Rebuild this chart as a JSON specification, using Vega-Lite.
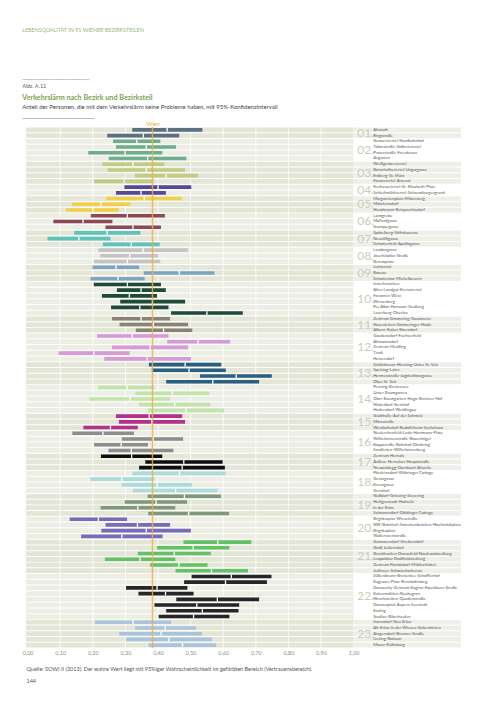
{
  "$schema": "https://vega.github.io/schema/vega-lite/v6.json",
  "background": "white",
  "padding": {"left": 22, "top": 27, "right": 0, "bottom": 0},
  "config": {
    "view": {"stroke": null},
    "concat": {"spacing": 0},
    "font": "Lato"
  },
  "title": {
    "text": "LEBENSQUALITÄT IN 91 WIENER BEZIRKSTEILEN",
    "anchor": "start",
    "fontSize": 5.4,
    "fontWeight": "normal",
    "color": "#9ab57a",
    "offset": 44
  },
  "vconcat": [
    {
      "title": {
        "text": ["────────────────", "Abb. A.11"],
        "anchor": "start",
        "fontSize": 5.6,
        "fontWeight": "normal",
        "color": "#666666",
        "lineHeight": 7,
        "offset": 4
      },
      "vconcat": [
        {
          "title": {
            "text": "Verkehrslärm nach Bezirk und Bezirksteil",
            "subtitle": ["Anteil der Personen, die mit dem Verkehrslärm keine Probleme haben, mit 95%-Konfidenzintervall", "────────────────"],
            "anchor": "start",
            "fontSize": 7.2,
            "fontWeight": "bold",
            "color": "#7f9f52",
            "subtitleFontSize": 6,
            "subtitleColor": "#444444",
            "subtitleLineHeight": 11,
            "subtitlePadding": 3,
            "offset": -1
          },
          "width": 435.2,
          "height": 521,
          "data": {
            "values": [
              {"bz": "01.", "name": "Altstadt", "lo": 0.321, "est": 0.428, "hi": 0.536},
              {"bz": "01.", "name": "Ringstraße", "lo": 0.244, "est": 0.355, "hi": 0.465},
              {"bz": "02.", "name": "Stuwerviertel-Nordbahnhof", "lo": 0.262, "est": 0.335, "hi": 0.407},
              {"bz": "02.", "name": "Taborstraße-Volkertviertel", "lo": 0.271, "est": 0.364, "hi": 0.455},
              {"bz": "02.", "name": "Praterstraße-Freudenau", "lo": 0.186, "est": 0.299, "hi": 0.413},
              {"bz": "02.", "name": "Augarten", "lo": 0.249, "est": 0.368, "hi": 0.487},
              {"bz": "03.", "name": "Weißgerberviertel", "lo": 0.229, "est": 0.323, "hi": 0.419},
              {"bz": "03.", "name": "Botschaftsviertel-Ungargasse", "lo": 0.245, "est": 0.364, "hi": 0.483},
              {"bz": "03.", "name": "Erdberg-St. Marx", "lo": 0.329, "est": 0.425, "hi": 0.523},
              {"bz": "03.", "name": "Fasanviertel-Arsenal", "lo": 0.204, "est": 0.296, "hi": 0.386},
              {"bz": "04.", "name": "Freihausviertel-St.-Elisabeth-Platz", "lo": 0.297, "est": 0.400, "hi": 0.502},
              {"bz": "04.", "name": "Schleifmühlviertel-Schaumburgergrund", "lo": 0.271, "est": 0.348, "hi": 0.424},
              {"bz": "05.", "name": "Margaretenplatz-Mittersteig", "lo": 0.241, "est": 0.358, "hi": 0.473},
              {"bz": "05.", "name": "Matzleinsdorf", "lo": 0.136, "est": 0.225, "hi": 0.315},
              {"bz": "05.", "name": "Hundsturm-Reinprechtsdorf", "lo": 0.118, "est": 0.200, "hi": 0.279},
              {"bz": "06.", "name": "Laimgrube", "lo": 0.194, "est": 0.306, "hi": 0.421},
              {"bz": "06.", "name": "Mollardgasse", "lo": 0.079, "est": 0.170, "hi": 0.260},
              {"bz": "06.", "name": "Stumpergasse", "lo": 0.239, "est": 0.323, "hi": 0.409},
              {"bz": "07.", "name": "Spittelberg-Stiftskaserne", "lo": 0.143, "est": 0.244, "hi": 0.346},
              {"bz": "07.", "name": "Neustiftgasse", "lo": 0.061, "est": 0.157, "hi": 0.254},
              {"bz": "07.", "name": "Schottenfeld-Apollogasse", "lo": 0.231, "est": 0.318, "hi": 0.405},
              {"bz": "08.", "name": "Laudongasse", "lo": 0.217, "est": 0.354, "hi": 0.492},
              {"bz": "08.", "name": "Josefstädter Straße", "lo": 0.223, "est": 0.313, "hi": 0.400},
              {"bz": "08.", "name": "Bennoplatz", "lo": 0.204, "est": 0.306, "hi": 0.407},
              {"bz": "09.", "name": "Lichtental", "lo": 0.199, "est": 0.271, "hi": 0.342},
              {"bz": "09.", "name": "Rossau", "lo": 0.356, "est": 0.465, "hi": 0.573},
              {"bz": "09.", "name": "Schottentor-Michelbeuern", "lo": 0.193, "est": 0.277, "hi": 0.359},
              {"bz": "10.", "name": "Innerfavoriten", "lo": 0.203, "est": 0.306, "hi": 0.409},
              {"bz": "10.", "name": "Altes Landgut-Kretaviertel", "lo": 0.274, "est": 0.348, "hi": 0.424},
              {"bz": "10.", "name": "Favoriten West", "lo": 0.228, "est": 0.312, "hi": 0.397},
              {"bz": "10.", "name": "Wienerberg", "lo": 0.284, "est": 0.383, "hi": 0.483},
              {"bz": "10.", "name": "Per Albin Hansson-Siedlung", "lo": 0.256, "est": 0.344, "hi": 0.432},
              {"bz": "10.", "name": "Laaerberg-Oberlaa", "lo": 0.440, "est": 0.550, "hi": 0.660},
              {"bz": "11.", "name": "Zentrum Simmering-Gasometer", "lo": 0.259, "est": 0.348, "hi": 0.437},
              {"bz": "11.", "name": "Hasenleiten-Simmeringer Haide", "lo": 0.282, "est": 0.386, "hi": 0.492},
              {"bz": "11.", "name": "Albern-Kaiser Ebersdorf", "lo": 0.332, "est": 0.417, "hi": 0.505},
              {"bz": "12.", "name": "Gaudenzdorf-Fuchsenfeld", "lo": 0.213, "est": 0.321, "hi": 0.432},
              {"bz": "12.", "name": "Altmannsdorf", "lo": 0.428, "est": 0.523, "hi": 0.621},
              {"bz": "12.", "name": "Zentrum Meidling", "lo": 0.259, "est": 0.376, "hi": 0.492},
              {"bz": "12.", "name": "Tivoli", "lo": 0.095, "est": 0.203, "hi": 0.313},
              {"bz": "12.", "name": "Hetzendorf", "lo": 0.235, "est": 0.367, "hi": 0.501},
              {"bz": "13.", "name": "Schönbrunn-Hietzing-Unter St. Veit", "lo": 0.372, "est": 0.483, "hi": 0.594},
              {"bz": "13.", "name": "Speising-Lainz", "lo": 0.381, "est": 0.495, "hi": 0.608},
              {"bz": "13.", "name": "Hermesstraße-Jagdschlossgasse", "lo": 0.529, "est": 0.640, "hi": 0.749},
              {"bz": "13.", "name": "Ober St. Veit", "lo": 0.425, "est": 0.568, "hi": 0.710},
              {"bz": "14.", "name": "Penzing-Breitensee", "lo": 0.216, "est": 0.305, "hi": 0.389},
              {"bz": "14.", "name": "Unter Baumgarten", "lo": 0.330, "est": 0.444, "hi": 0.557},
              {"bz": "14.", "name": "Ober Baumgarten-Hugo-Breitner-Hof", "lo": 0.189, "est": 0.314, "hi": 0.437},
              {"bz": "14.", "name": "Hütteldorf-Steinhof", "lo": 0.342, "est": 0.451, "hi": 0.560},
              {"bz": "14.", "name": "Hadersdorf-Weidlingau", "lo": 0.369, "est": 0.486, "hi": 0.603},
              {"bz": "15.", "name": "Stadthalle-Auf der Schmelz", "lo": 0.271, "est": 0.373, "hi": 0.474},
              {"bz": "15.", "name": "Märzstraße", "lo": 0.280, "est": 0.381, "hi": 0.483},
              {"bz": "15.", "name": "Westbahnhof-Rudolfsheim-Sechshaus", "lo": 0.171, "est": 0.254, "hi": 0.338},
              {"bz": "16.", "name": "Neulerchenfeld-Ludo-Hartmann-Platz", "lo": 0.137, "est": 0.231, "hi": 0.326},
              {"bz": "16.", "name": "Wilhelminenstraße-Rosenhügel", "lo": 0.289, "est": 0.385, "hi": 0.477},
              {"bz": "16.", "name": "Koppstraße-Bahnhof Ottakring", "lo": 0.204, "est": 0.287, "hi": 0.369},
              {"bz": "16.", "name": "Sandleiten-Wilhelminenberg", "lo": 0.248, "est": 0.318, "hi": 0.447},
              {"bz": "17.", "name": "Zentrum Hernals", "lo": 0.225, "est": 0.319, "hi": 0.413},
              {"bz": "17.", "name": "Äußere Hernalser Hauptstraße", "lo": 0.361, "est": 0.479, "hi": 0.598},
              {"bz": "17.", "name": "Neuwaldegg-Dornbach-Alszeile", "lo": 0.342, "est": 0.474, "hi": 0.605},
              {"bz": "18.", "name": "Pötzleinsdorf-Währinger Cottage", "lo": 0.322, "est": 0.466, "hi": 0.608},
              {"bz": "18.", "name": "Gentzgasse", "lo": 0.192, "est": 0.289, "hi": 0.389},
              {"bz": "18.", "name": "Kreuzgasse", "lo": 0.289, "est": 0.397, "hi": 0.504},
              {"bz": "18.", "name": "Gersthof", "lo": 0.323, "est": 0.454, "hi": 0.583},
              {"bz": "19.", "name": "Nußdorf-Grinzing-Sievering", "lo": 0.368, "est": 0.481, "hi": 0.593},
              {"bz": "19.", "name": "Heiligenstadt-Hofzeile", "lo": 0.298, "est": 0.394, "hi": 0.489},
              {"bz": "19.", "name": "In der Krim", "lo": 0.224, "est": 0.338, "hi": 0.453},
              {"bz": "19.", "name": "Salmannsdorf-Döblinger Cottage", "lo": 0.370, "est": 0.494, "hi": 0.618},
              {"bz": "20.", "name": "Brigittaspitz-Wiesstraße", "lo": 0.129, "est": 0.217, "hi": 0.305},
              {"bz": "20.", "name": "NW-Bahnhof-Zwischenbrücken-Hochstädtplatz", "lo": 0.239, "est": 0.337, "hi": 0.437},
              {"bz": "20.", "name": "Brigittaplatz", "lo": 0.226, "est": 0.364, "hi": 0.501},
              {"bz": "20.", "name": "Wallensteinstraße", "lo": 0.164, "est": 0.289, "hi": 0.414},
              {"bz": "21.", "name": "Stammersdorf-Strebersdorf", "lo": 0.478, "est": 0.583, "hi": 0.686},
              {"bz": "21.", "name": "Groß Jedlersdorf", "lo": 0.397, "est": 0.508, "hi": 0.619},
              {"bz": "21.", "name": "Bruckhaufen-Donaufeld-Nordrandsiedlung", "lo": 0.338, "est": 0.450, "hi": 0.562},
              {"bz": "21.", "name": "Leopoldau-Großfeldsiedlung", "lo": 0.237, "est": 0.345, "hi": 0.453},
              {"bz": "21.", "name": "Zentrum Floridsdorf-Mühlschüttel", "lo": 0.376, "est": 0.464, "hi": 0.552},
              {"bz": "21.", "name": "Jedlesee-Schwarzlackenau", "lo": 0.454, "est": 0.564, "hi": 0.676},
              {"bz": "22.", "name": "Süßenbrunn-Breitenlee-Schafflerhof", "lo": 0.503, "est": 0.625, "hi": 0.748},
              {"bz": "22.", "name": "Kagraner Platz-Rennbahnweg", "lo": 0.480, "est": 0.607, "hi": 0.734},
              {"bz": "22.", "name": "Donaucity-Zentrum Kagran-Eipeldauer Straße", "lo": 0.302, "est": 0.397, "hi": 0.490},
              {"bz": "22.", "name": "Kaisermühlen-Neukagran", "lo": 0.340, "est": 0.423, "hi": 0.509},
              {"bz": "22.", "name": "Hirschstetten-Quadenstraße", "lo": 0.456, "est": 0.582, "hi": 0.710},
              {"bz": "22.", "name": "Donauspital-Aspern-Seestadt", "lo": 0.389, "est": 0.519, "hi": 0.649},
              {"bz": "22.", "name": "Essling", "lo": 0.425, "est": 0.536, "hi": 0.647},
              {"bz": "22.", "name": "Stadlau-Biberhaufen", "lo": 0.402, "est": 0.509, "hi": 0.619},
              {"bz": "23.", "name": "Inzersdorf-Neu Erlaa", "lo": 0.207, "est": 0.323, "hi": 0.440},
              {"bz": "23.", "name": "Alt-Erlaa-In der Wiesen-Siebenhirten", "lo": 0.330, "est": 0.422, "hi": 0.517},
              {"bz": "23.", "name": "Atzgersdorf-Brunner Straße", "lo": 0.281, "est": 0.409, "hi": 0.535},
              {"bz": "23.", "name": "Liesing-Rodaun", "lo": 0.302, "est": 0.433, "hi": 0.565},
              {"bz": "23.", "name": "Mauer-Kalksburg", "lo": 0.371, "est": 0.475, "hi": 0.578}
            ]
          },
          "transform": [
            {"joinaggregate": [{"op": "count", "as": "n"}], "groupby": ["bz"]},
            {"window": [{"op": "row_number", "as": "r"}], "groupby": ["bz"]}
          ],
          "resolve": {"axis": {"x": "independent"}},
          "layer": [
            {
              "mark": {"type": "rect"},
              "encoding": {
                "y": {"field": "name", "type": "nominal", "sort": null, "axis": null, "scale": {"paddingInner": 0.17, "paddingOuter": 0.085}},
                "x": {"datum": -0.005, "type": "quantitative", "axis": null, "scale": {"domain": [-0.005, 1.33], "nice": false, "zero": false}},
                "x2": {"datum": 1.0},
                "color": {"condition": {"test": "parseInt(datum.bz) % 2 == 1", "value": "#e3e6d6"}, "value": "#eceee4"}
              }
            },
            {
              "mark": {"type": "rect"},
              "encoding": {
                "y": {"field": "name", "type": "nominal", "sort": null, "axis": null},
                "x": {"datum": 1.0, "type": "quantitative", "axis": null},
                "x2": {"datum": 1.33},
                "color": {"condition": {"test": "parseInt(datum.bz) % 2 == 1", "value": "#efefea"}, "value": "#ffffff"}
              }
            },
            {
              "data": {"values": [{"g": 0.1}, {"g": 0.2}, {"g": 0.3}, {"g": 0.4}, {"g": 0.5}, {"g": 0.6}, {"g": 0.7}, {"g": 0.8}, {"g": 0.9}]},
              "mark": {"type": "rule", "color": "#ffffff", "strokeWidth": 0.8},
              "encoding": {
                "x": {"field": "g", "type": "quantitative", "axis": null}
              }
            },
            {
              "mark": {"type": "bar"},
              "encoding": {
                "y": {"field": "name", "type": "nominal", "sort": null, "axis": null},
                "x": {
                  "field": "lo", "type": "quantitative",
                  "scale": {"domain": [-0.005, 1.33], "nice": false, "zero": false},
                  "axis": {
                    "orient": "bottom",
                    "values": [0, 0.1, 0.2, 0.3, 0.4, 0.5, 0.6, 0.7, 0.8, 0.9, 1.0],
                    "labelExpr": "replace(format(datum.value, '.2f'), '.', ',')",
                    "labelFontSize": 5.5,
                    "labelColor": "#8a8a8a",
                    "labelPadding": 3,
                    "ticks": false,
                    "domain": false,
                    "grid": false,
                    "title": ["Quelle: SOWI II (2013). Der wahre Wert liegt mit 95%iger Wahrscheinlichkeit im gefärbten Bereich (Vertrauensbereich).", "144"],
                    "titleFontSize": 5.5,
                    "titleFontWeight": "normal",
                    "titleColor": "#555555",
                    "titleLineHeight": 12,
                    "titleAnchor": "start",
                    "titleAlign": "left",
                    "titleX": 0,
                    "titlePadding": 10
                  }
                },
                "x2": {"field": "hi"},
                "size": {"value": 3.6},
                "color": {
                  "field": "bz", "type": "nominal", "legend": null,
                  "scale": {
                    "domain": ["01.", "02.", "03.", "04.", "05.", "06.", "07.", "08.", "09.", "10.", "11.", "12.", "13.", "14.", "15.", "16.", "17.", "18.", "19.", "20.", "21.", "22.", "23."],
                    "range": ["#5c7083", "#6fae8c", "#c3ca82", "#574898", "#f1d047", "#8c4858", "#5ec3bb", "#c4c4c4", "#7fa4c3", "#1f4a38", "#8a8274", "#d69ad7", "#2b5f82", "#c2e4ab", "#b1318b", "#8d8d8d", "#0e0e0e", "#aadcdc", "#7f977a", "#7a6bb8", "#63c266", "#262626", "#a9c4dd"]
                  }
                }
              }
            },
            {
              "mark": {"type": "tick", "orient": "vertical", "color": "#ffffff", "thickness": 1.3, "opacity": 1},
              "encoding": {
                "y": {"field": "name", "type": "nominal", "sort": null, "axis": null},
                "x": {"field": "est", "type": "quantitative", "axis": null},
                "size": {"value": 3.8}
              }
            },
            {
              "data": {"values": [{"wien": 0.383}]},
              "mark": {"type": "rule", "color": "#f2ae48", "strokeWidth": 1.4, "opacity": 0.85},
              "encoding": {
                "x": {
                  "field": "wien", "type": "quantitative",
                  "axis": {
                    "orient": "top",
                    "values": [0.383],
                    "labelExpr": "'Wien'",
                    "labelFontSize": 5.8,
                    "labelColor": "#f0a840",
                    "labelPadding": 1,
                    "ticks": false,
                    "domain": false,
                    "grid": false,
                    "title": null
                  }
                }
              }
            },
            {
              "mark": {"type": "text", "align": "left", "baseline": "middle", "fontSize": 4.2, "color": "#555555"},
              "encoding": {
                "y": {"field": "name", "type": "nominal", "sort": null, "axis": null},
                "x": {"datum": 1.06, "type": "quantitative", "axis": null},
                "text": {"field": "name"}
              }
            },
            {
              "mark": {"type": "text", "align": "left", "baseline": "middle", "fontSize": 12, "color": "#c9ccba"},
              "encoding": {
                "y": {"field": "name", "type": "nominal", "sort": null, "axis": null},
                "x": {"datum": 1.011, "type": "quantitative", "axis": null},
                "text": {"condition": {"test": "datum.n % 2 == 1 && datum.r == ceil(datum.n / 2)", "field": "bz"}, "value": ""}
              }
            },
            {
              "mark": {"type": "text", "align": "left", "baseline": "middle", "fontSize": 12, "color": "#c9ccba", "dy": 2.86},
              "encoding": {
                "y": {"field": "name", "type": "nominal", "sort": null, "axis": null},
                "x": {"datum": 1.011, "type": "quantitative", "axis": null},
                "text": {"condition": {"test": "datum.n % 2 == 0 && datum.r == datum.n / 2", "field": "bz"}, "value": ""}
              }
            }
          ]
        }
      ]
    }
  ]
}
